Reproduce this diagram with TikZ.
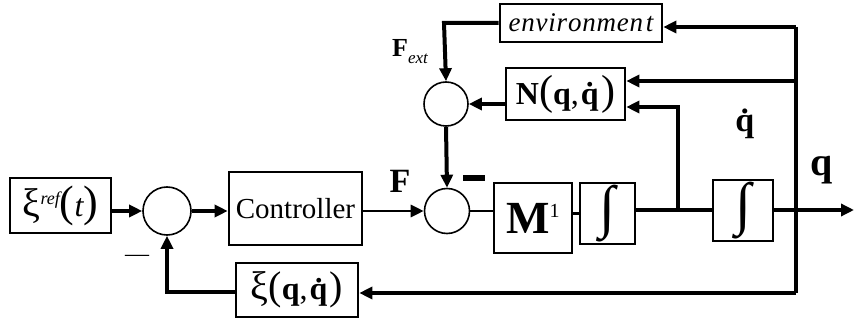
\documentclass[tikz,border=0pt]{standalone}
\usepackage{fontspec}
\setmainfont{Liberation Serif}
\usetikzlibrary{arrows.meta,calc}
\newcommand\fsz[1]{\fontsize{#1}{#1}\selectfont}
\newcommand\qd{\textbf{\.q}}
\newcommand\lsp[1]{#1\kern0.8pt}
\begin{document}
\begin{tikzpicture}[x=1pt,y=-1pt,
  blk/.style={draw,line width=2.6pt,inner sep=0pt,rectangle},
  sumc/.style={draw,circle,line width=1.6pt,inner sep=0pt},
  ln/.style={line width=4pt},
  thin/.style={line width=2.4pt},
  arr/.style={line width=4pt,-{Triangle[length=13pt,width=12pt]}},
  lbl/.style={inner sep=0pt}]
\useasboundingbox (0,0) rectangle (854,323);
% blocks
\node[blk,minimum width=101pt,minimum height=55pt] (ref) at (60.5,205.5)
  {\fsz{40}ξ\raisebox{12pt}{\fsz{18}\itshape ref}\fsz{44}(\fsz{32}\itshape t\fsz{44}\upshape)};
\node[sumc,minimum size=48pt] (s1) at (167,211) {};
\node[blk,minimum width=133pt,minimum height=73pt] (ctrl) at (295.5,208.5) {\fsz{29}Controller};
\node[sumc,minimum size=45pt] (s3) at (447,211) {};
\node[blk,minimum width=78pt,minimum height=70pt] (M) at (533,218)
  {\fsz{46}\textbf{M}\raisebox{16pt}{\fsz{20}1}};
\node[blk,minimum width=55pt,minimum height=61pt] (i1) at (607.5,213.5) {\fsz{58}∫};
\node[blk,minimum width=60pt,minimum height=61pt] (i2) at (743,210.5) {\fsz{58}∫};
\node[sumc,minimum size=44pt] (s2) at (446,104) {};
\node[blk,minimum width=119pt,minimum height=52pt] (N) at (565.5,94)
  {\fsz{32}\textbf{N}\fsz{42}(\fsz{32}\textbf{q},\kern2pt\qd\fsz{42})};
\node[blk,minimum width=162pt,minimum height=38pt] (env) at (581,23)
  {\fsz{27}\itshape \lsp e\lsp n\lsp v\lsp i\lsp r\lsp o\lsp n\lsp m\lsp e\lsp n\kern2pt t};
\node[blk,minimum width=122pt,minimum height=54pt] (xi) at (297,290)
  {\fsz{40}ξ\fsz{40}(\fsz{32}\textbf{q},\kern2pt\qd\fsz{40})};
% labels
\node[lbl] (Fext) at (410,52) {\fsz{26}\textbf{F}\raisebox{-7pt}{\fsz{17}\itshape ext}};
\node[lbl] (F) at (400,181) {\fsz{34}\textbf{F}};
\node[lbl] (qdot) at (746,124) {\fsz{34}\qd};
\node[lbl] (q) at (822,170) {\fsz{40}\textbf{q}};
\node[fill,inner sep=0pt,minimum width=22pt,minimum height=6pt] (m2) at (474,178) {};
\node[lbl] (m1) at (137,258) {\fsz{24}—};
% coordinates
\coordinate (j1) at (678,210);
\coordinate (out) at (854,210);
\coordinate (rt) at (796,27);
\coordinate (rb) at (796,293);
\coordinate (lb) at (167,292);
\coordinate (et) at (444,23);
% connectors
\draw[arr] (ref.east |- s1.west) -- (s1.west);
\draw[arr] (s1.east) -- (ctrl.west |- s1.east);
\draw[arr,line width=2.8pt] (ctrl.east |- s3.west) -- (s3.west);
\draw[thin] (s3.east) -- (M.west |- s3.east);
\draw[thin] (M.east |- i1) -- (i1.west);
\draw[ln] (i1.east |- j1) -- (j1) -- (i2.west |- j1);
\draw[arr] (i2.east |- out) -- (out);
\draw[arr] (j1) -- (678,107) -- (N.east |- 0,107);
\draw[ln] (rt) -- (rb);
\draw[arr] (rt) -- (env.east |- rt);
\draw[arr] (796,81) -- (N.east |- 0,81);
\draw[arr] (rb) -- (xi.east |- rb);
\draw[arr] (xi.west |- lb) -- (lb) -- (s1.south);
\draw[arr] (env.west |- et) -- (et) -- (s2.north);
\draw[arr] (N.west |- s2.east) -- (s2.east);
\draw[arr] (s2.south) -- (s3.north);
\end{tikzpicture}
\end{document}
